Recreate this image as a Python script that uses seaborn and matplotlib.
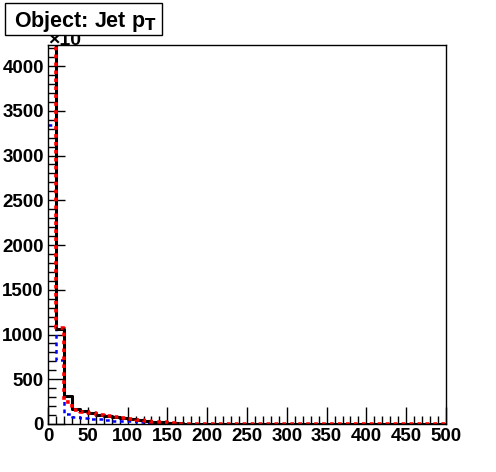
import numpy as np
import pandas as pd
import matplotlib
matplotlib.use("Agg")
import matplotlib.pyplot as plt
import seaborn as sns
from matplotlib.patches import Rectangle

# bin edges: 50 bins of 10 GeV
bin_lo = list(range(0, 500, 10))

# counts per bin
black_counts = [5000, 1065, 314, 168, 150, 123, 105, 90, 78, 67,
                56, 40, 32, 26, 20, 16, 6, 5, 4, 3,
                3, 2, 2, 2, 2, 1, 1, 1, 1, 1,
                1, 1, 1, 1, 1, 1, 1, 1, 1, 1,
                1, 1, 1, 1, 1, 1, 1, 1, 1, 1]
red_counts = [5200, 1070, 250, 157, 138, 123, 100, 90, 74, 62,
              52, 45, 30, 25, 20, 16, 5, 4, 3, 3,
              2, 2, 2, 2, 1, 1, 1, 1, 1, 1,
              1, 1, 1, 1, 1, 1, 1, 1, 1, 1,
              1, 1, 1, 1, 1, 1, 1, 1, 1, 1]
blue_counts = [3340, 717, 112, 78, 71, 56, 53, 45, 38, 38,
               30, 25, 15, 14, 12, 10, 6, 5, 4, 3,
               3, 2, 2, 2, 2, 2, 2, 2, 2, 2,
               2, 2, 2, 2, 2, 2, 2, 2, 2, 2,
               2, 2, 2, 2, 2, 2, 2, 2, 2, 2]

x_ticks = list(range(0, 501, 50))
y_ticks = list(range(0, 4001, 500))

sns.set_style("white")
plt.rcParams['font.family'] = ['Liberation Sans', 'DejaVu Sans']
plt.rcParams['text.color'] = 'black'
plt.rcParams['xtick.color'] = 'black'
plt.rcParams['ytick.color'] = 'black'

fig = plt.figure(figsize=(4.96, 4.72), dpi=100)
ax = fig.add_axes([48 / 496, 48 / 472, 398 / 496, 379 / 472])

centers = [b + 5 for b in bin_lo]
edges = list(range(0, 510, 10))
df = pd.DataFrame({"x": centers, "black": black_counts,
                   "red": red_counts, "blue": blue_counts})

sns.histplot(data=df, x="x", weights="blue", bins=edges, element="step",
             fill=False, color="#0000ff", linewidth=1.8,
             linestyle=(0, (1.5, 1.5)), ax=ax)
sns.histplot(data=df, x="x", weights="black", bins=edges, element="step",
             fill=False, color="black", linewidth=2.2, ax=ax)
sns.histplot(data=df, x="x", weights="red", bins=edges, element="step",
             fill=False, color="#ff0000", linewidth=2.6,
             linestyle=(0, (1, 1.2)), ax=ax)

ax.set_xlim(0, 500)
ax.set_ylim(0, 4235)
ax.set_xlabel("")
ax.set_ylabel("")
ax.set_xticks(x_ticks)
ax.set_yticks(y_ticks)
ax.set_xticks(range(0, 501, 10), minor=True)
ax.set_yticks(range(0, 4201, 100), minor=True)
ax.tick_params(axis="both", which="major", direction="in", length=12,
               width=1, color="black", labelcolor="black", labelsize=13.5, pad=3)
ax.tick_params(axis="both", which="minor", direction="in", length=6,
               width=1, color="black")
ax.tick_params(axis="both", top=False, right=False, which="both")
ax.tick_params(axis="both", bottom=True, left=True, which="both")
for lab in ax.get_xticklabels() + ax.get_yticklabels():
    lab.set_fontweight("bold")
for sp in ax.spines.values():
    sp.set_color("black")
    sp.set_linewidth(1)
    sp.set_visible(True)

# exponent marker at top of y axis (partly hidden by the title box)
fig.text(48 / 496, 1 - 45 / 472, "\u00d710", fontsize=14, fontweight="bold",
         color="black", ha="left", va="baseline", zorder=1)

# title box
fig.patches.append(Rectangle((5 / 496, 1 - 35 / 472), 157 / 496, 32 / 472,
                             transform=fig.transFigure, facecolor="white",
                             edgecolor="black", linewidth=1, zorder=5))
fig.text(85 / 496, 1 - 21 / 472, r"Object: Jet p$_{\mathbf{T}}$",
         fontsize=15.5, fontweight="bold", color="black",
         ha="center", va="center", zorder=6)

fig.savefig("out.png", dpi=100)
